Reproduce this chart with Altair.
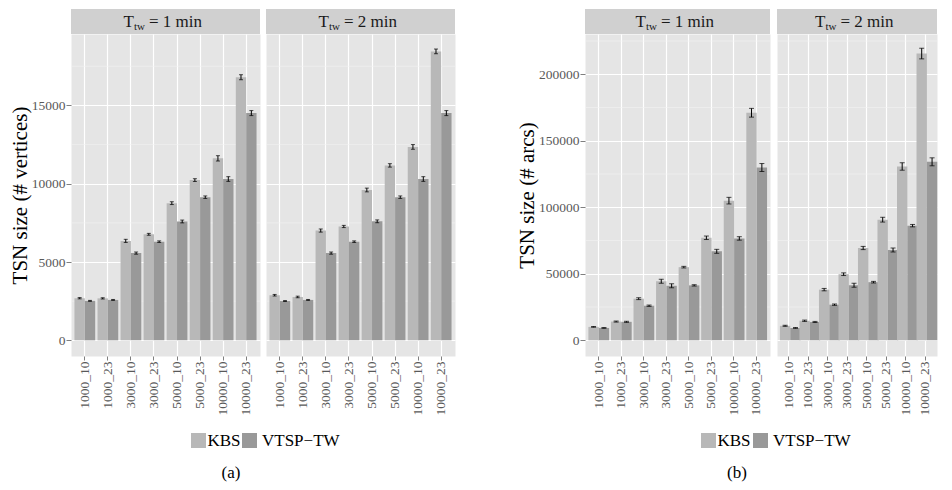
import altair as alt
import pandas as pd

instances = ["1000_10", "1000_23", "3000_10", "3000_23", "5000_10", "5000_23", "10000_10", "10000_23"]
series = ["KBS", "VTSP\u2212TW"]
windows = ["1 min", "2 min"]
captions = ["(a)", "(b)"]

# TSN size (# vertices)
v_kbs_1 = [2690, 2680, 6350, 6770, 8760, 10230, 11620, 16800]
v_vtsp_1 = [2520, 2580, 5570, 6300, 7590, 9140, 10300, 14510]
v_kbs_2 = [2880, 2770, 7010, 7270, 9600, 11170, 12350, 18450]
v_vtsp_2 = [2510, 2580, 5570, 6300, 7600, 9140, 10300, 14510]
v_kbs_err_1 = [40, 40, 100, 60, 90, 90, 170, 160]
v_vtsp_err_1 = [30, 30, 70, 50, 90, 80, 150, 160]
v_kbs_err_2 = [50, 50, 100, 70, 120, 110, 150, 150]
v_vtsp_err_2 = [30, 30, 70, 50, 90, 80, 150, 160]

# TSN size (# arcs)
a_kbs_1 = [10100, 14100, 31300, 44400, 55000, 77100, 105000, 171100]
a_vtsp_1 = [9300, 13900, 26000, 41000, 41300, 66900, 76600, 129900]
a_kbs_2 = [10900, 14700, 38100, 49700, 69400, 90700, 130700, 215600]
a_vtsp_2 = [9300, 13800, 26800, 41400, 43700, 67900, 86200, 134200]
a_kbs_err_1 = [300, 400, 700, 1500, 600, 1300, 2500, 3300]
a_vtsp_err_1 = [300, 400, 500, 1500, 500, 1500, 1300, 3000]
a_kbs_err_2 = [400, 500, 900, 1000, 1200, 1800, 2800, 4000]
a_vtsp_err_2 = [300, 400, 500, 1500, 600, 1500, 900, 3000]

v_major = [0, 5000, 10000, 15000]
v_minor = [2500, 7500, 12500, 17500]
a_major = [0, 50000, 100000, 150000, 200000]
a_minor = [25000, 75000, 125000, 175000, 225000]

FONT = "Liberation Serif"
BG = "#E5E5E5"
STRIP = "#D0D0D0"
COLORS = ["#B8B8B8", "#999999"]
LABEL = "#595959"
PH = 322


def make_df(k1, v1, k2, v2, ek1, ev1, ek2, ev2):
    rows = []
    for tw, ks, vs, eks, evs in [(windows[0], k1, v1, ek1, ev1), (windows[1], k2, v2, ek2, ev2)]:
        for i, inst in enumerate(instances):
            for s, val, e in [(series[0], ks[i], eks[i]), (series[1], vs[i], evs[i])]:
                rows.append({"tw": tw, "instance": inst, "series": s, "value": val,
                             "lo": val - e, "hi": val + e})
    return pd.DataFrame(rows)


df_v = make_df(v_kbs_1, v_vtsp_1, v_kbs_2, v_vtsp_2, v_kbs_err_1, v_vtsp_err_1, v_kbs_err_2, v_vtsp_err_2)
df_a = make_df(a_kbs_1, a_vtsp_1, a_kbs_2, a_vtsp_2, a_kbs_err_1, a_vtsp_err_1, a_kbs_err_2, a_vtsp_err_2)

color_scale = alt.Scale(domain=series, range=COLORS)

LEG_Y = 399   # legend key top, relative to the plot top
CAP_Y = 444   # caption baseline, relative to the plot top


def key_square(i, x0):
    return alt.Chart(pd.DataFrame({"s": [series[i]]})).mark_rect().encode(
        x=alt.value(x0), x2=alt.value(x0 + 15), y=alt.value(LEG_Y), y2=alt.value(LEG_Y + 15),
        color=alt.Color("s:N", scale=color_scale, legend=None))


def key_text(i, x0):
    return alt.Chart(pd.DataFrame({"s": [series[i]]})).mark_text(
        font=FONT, fontSize=17, align="left", baseline="alphabetic", color="black").encode(
        x=alt.value(x0), y=alt.value(LEG_Y + 13), text="s:N")


def caption(i, cx):
    return alt.Chart(pd.DataFrame({"c": [captions[i]]})).mark_text(
        font=FONT, fontSize=17, align="center", baseline="alphabetic", color="black").encode(
        x=alt.value(cx), y=alt.value(CAP_Y), text="c:N")


def panel(df, tw, domain, major, minor, width, ytitle, cap, extra):
    d = df[df.tw == tw]
    yscale = alt.Scale(domain=domain, nice=False, zero=False)
    xscale = alt.Scale(domain=instances, paddingInner=0.1, paddingOuter=0.15)
    if ytitle:
        yaxis = alt.Axis(values=major, grid=True, gridColor="white", gridWidth=1.2, domain=False,
                         ticks=True, tickSize=5, tickColor="#7f7f7f", labelColor=LABEL, labelFont=FONT,
                         labelFontSize=13.5, labelPadding=1, format="d", title=ytitle, titleFont=FONT,
                         titleFontSize=21, titleFontWeight="normal", titleColor="black", titlePadding=1)
    else:
        yaxis = alt.Axis(values=major, grid=True, gridColor="white", gridWidth=1.2, domain=False,
                         ticks=False, labels=False, title=None)
    xaxis = alt.Axis(grid=True, gridColor="white", gridWidth=1.2, bandPosition=0.5, domain=False,
                     ticks=True, tickSize=4, tickColor="#7f7f7f", labelColor=LABEL, labelFont=FONT,
                     labelFontSize=13.5, labelAngle=270, labelAlign="right", labelBaseline="middle",
                     labelPadding=1, title=None)
    x = alt.X("instance:N", scale=xscale, axis=xaxis)
    xo = alt.XOffset("series:N", scale=alt.Scale(domain=series, paddingInner=0, paddingOuter=0))

    minor_layer = alt.Chart(pd.DataFrame({"v": minor})).mark_rule(color="#F2F2F2", strokeWidth=0.6).encode(
        y=alt.Y("v:Q", scale=yscale, axis=yaxis))
    bars = alt.Chart(d).mark_bar().encode(
        x=x, xOffset=xo,
        y=alt.Y("value:Q", scale=yscale, axis=yaxis), y2=alt.datum(0),
        color=alt.Color("series:N", scale=color_scale, legend=None))
    err = alt.Chart(d).mark_rule(color="black", strokeWidth=1).encode(
        x=x, xOffset=xo, y=alt.Y("lo:Q", scale=yscale, axis=yaxis), y2="hi:Q")
    cap_lo = alt.Chart(d).mark_tick(color="black", orient="horizontal", size=cap, thickness=1).encode(
        x=x, xOffset=xo, y=alt.Y("lo:Q", scale=yscale, axis=yaxis))
    cap_hi = alt.Chart(d).mark_tick(color="black", orient="horizontal", size=cap, thickness=1).encode(
        x=x, xOffset=xo, y=alt.Y("hi:Q", scale=yscale, axis=yaxis))

    sdf = pd.DataFrame({"lab": ["=  " + tw]})
    c = width / 2
    strip = alt.Chart(sdf).mark_rect(color=STRIP).encode(
        x=alt.value(0), x2=alt.value(width), y=alt.value(-25), y2=alt.value(0))
    t_main = alt.Chart(sdf).mark_text(text="T", font=FONT, fontSize=17, align="left",
                                      baseline="middle", color="#1a1a1a").encode(
        x=alt.value(c - 42), y=alt.value(-12))
    t_sub = alt.Chart(sdf).mark_text(text="tw", font=FONT, fontSize=11, align="left",
                                     baseline="middle", color="#1a1a1a").encode(
        x=alt.value(c - 31.5), y=alt.value(-7.5))
    t_lab = alt.Chart(sdf).mark_text(font=FONT, fontSize=17, align="left",
                                     baseline="middle", color="#1a1a1a").encode(
        x=alt.value(c - 16.5), y=alt.value(-12), text="lab:N")

    return alt.layer(minor_layer, bars, err, cap_lo, cap_hi, strip, t_main, t_sub, t_lab, *extra).properties(
        width=width, height=PH, view=alt.ViewBackground(fill=BG, stroke="transparent"))


A1 = panel(df_v, windows[0], [-1000, 19560], v_major, v_minor, 189, "TSN size (# vertices)", 4,
           [key_square(0, 120), key_text(0, 136.5), key_square(1, 171), caption(0, 160)])
A2 = panel(df_v, windows[1], [-1000, 19560], v_major, v_minor, 189, None, 4,
           [key_text(1, -4)])
B1 = panel(df_a, windows[0], [-11800, 230300], a_major, a_minor, 185, "TSN size (# arcs)", 5,
           [key_square(0, 116), key_text(0, 132.5), key_square(1, 168), caption(1, 152)])
B2 = panel(df_a, windows[1], [-11800, 230300], a_major, a_minor, 160, None, 5,
           [key_text(1, -4)])

rowA = alt.hconcat(A1, A2, spacing=0)
rowB = alt.hconcat(B1, B2, spacing=1)
chart = alt.hconcat(rowA, rowB, spacing=60).resolve_scale(y="independent").properties(
    padding=0).configure(font=FONT)

chart.save("out.html", embed_options={"renderer": "svg", "actions": False})
